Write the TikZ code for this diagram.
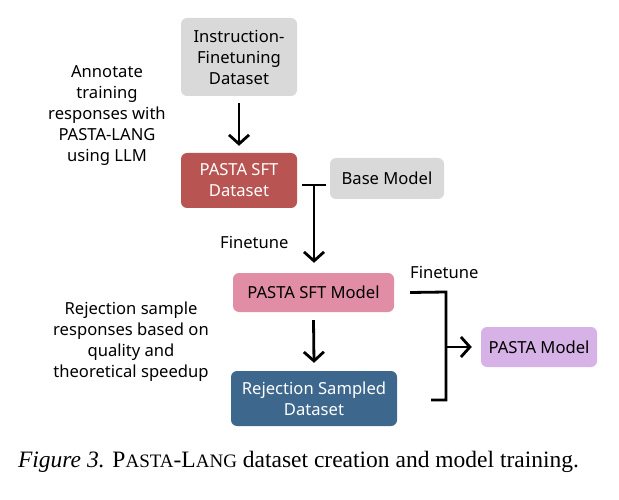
\documentclass[tikz,border=0pt]{standalone}
\usepackage{fontspec}
\setmainfont{Noto Sans}
\newfontfamily\capfont{Liberation Serif}
\usetikzlibrary{arrows.meta}
\definecolor{boxgray}{RGB}{217,217,217}
\definecolor{boxred}{RGB}{184,84,82}
\definecolor{boxpink}{RGB}{225,141,166}
\definecolor{boxblue}{RGB}{61,103,140}
\definecolor{boxlav}{RGB}{214,178,230}
\tikzset{
  x=1pt, y=-1pt,
  box/.style={rounded corners=6pt, inner sep=0pt, font=\fontsize{16.6}{21}\selectfont, align=center},
  lbl/.style={font=\fontsize{16.6}{21}\selectfont, align=center, inner sep=0pt},
  conn/.style={line width=2.8pt, -{Straight Barb[length=9pt,width=20pt,line width=2.8pt]}},
  plain/.style={line width=2.8pt}
}
\begin{document}
\begin{tikzpicture}
\useasboundingbox (0,0) rectangle (619,500);
\node[box, fill=boxgray, minimum width=116pt, minimum height=78pt] (ifd) at (239,57) {Instruction-\\Finetuning\\Dataset};
\node[box, fill=boxred, text=white, minimum width=116pt, minimum height=55pt] (sftd) at (239,180.5) {PASTA SFT\\Dataset};
\node[box, fill=boxgray, minimum width=114pt, minimum height=41pt] (base) at (387,178.5) {Base Model};
\node[box, fill=boxpink, minimum width=161pt, minimum height=39pt] (sftm) at (313.5,292.5) {PASTA SFT Model};
\node[box, fill=boxblue, text=white, minimum width=166pt, minimum height=55pt] (rsd) at (314,398.5) {Rejection Sampled\\Dataset};
\node[box, fill=boxlav, minimum width=116pt, minimum height=40pt] (pm) at (539,347) {PASTA Model};

\node[lbl] (ann) at (107,116) {Annotate\\training\\responses with\\PASTA-LANG\\using LLM};
\node[lbl] (rej) at (131,341.5) {Rejection sample\\responses based on\\quality and\\theoretical speedup};
\node[lbl, anchor=west] (ft1) at (220,242) {Finetune};
\node[lbl, anchor=west] (ft2) at (410,272) {Finetune};

\coordinate (tl) at (302,185);
\coordinate (tr) at (326,185);
\coordinate (tm) at (314,185);
\coordinate (bt) at (446,292);
\coordinate (bb) at (446,400);
\coordinate (bm) at (446,347);

\draw[conn] ([yshift=-7pt]ifd.south) -- ([yshift=7pt]sftd.north);
\draw[plain] (tl) -- (tr);
\draw[conn] (tm) -- ([yshift=10pt]sftm.north -| tm);
\draw[conn] ([yshift=-8pt]sftm.south) -- ([yshift=8pt]rsd.north);
\draw[plain] ([xshift=16pt]sftm.east) -- (bt) -- (bb) -- ([xshift=34pt]rsd.east |- bb);
\draw[conn] (bm) -- ([xshift=-9pt]pm.west);

\node[font=\capfont\fontsize{23.5}{26}\selectfont, inner sep=0pt] (cap) at (298.5,462) {\textit{Figure 3.} P{\fontsize{19}{22}\selectfont ASTA}-L{\fontsize{19}{22}\selectfont ANG} dataset creation and model training.};
\end{tikzpicture}
\end{document}
